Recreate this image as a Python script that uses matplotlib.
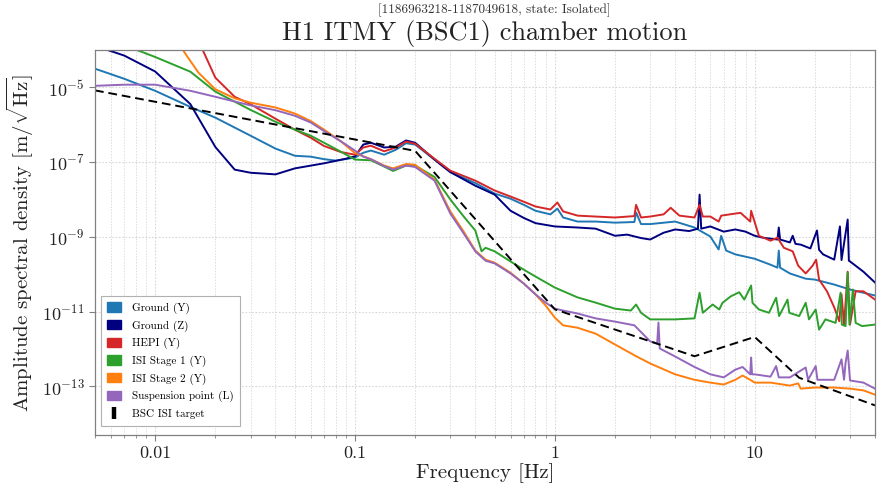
import matplotlib
matplotlib.use("Agg")
import matplotlib.pyplot as plt
from matplotlib.lines import Line2D
from matplotlib.patches import Patch
from matplotlib.ticker import FixedLocator, FuncFormatter, LogFormatterMathtext, NullLocator, LogLocator

plt.rcParams['font.family'] = 'serif'
plt.rcParams['font.serif'] = ['cmr10', 'DejaVu Serif']
plt.rcParams['mathtext.fontset'] = 'cm'
plt.rcParams['axes.unicode_minus'] = False
plt.rcParams['axes.formatter.use_mathtext'] = True

# ---------------- data ----------------
labels = ["Ground (Y)", "Ground (Z)", "HEPI (Y)", "ISI Stage 1 (Y)",
          "ISI Stage 2 (Y)", "Suspension point (L)"]
colors = ["#1f77b4", "#000080", "#d62728", "#2ca02c", "#ff7f0e", "#9467bd"]

ground_y_f = [0.005, 0.007, 0.01, 0.015, 0.02, 0.03, 0.04, 0.05, 0.06, 0.07, 0.08, 0.1, 0.11, 0.12,
              0.14, 0.16, 0.18, 0.2, 0.25, 0.3, 0.4, 0.5, 0.6, 0.7, 0.8, 0.95, 1.03, 1.1, 1.3, 1.6,
              2.0, 2.5, 2.55, 2.7, 3.0, 4.0, 5.0, 6.0, 6.6, 6.8, 7.2, 8, 10, 12, 13, 13.2, 13.4, 15,
              18, 20, 25, 30, 35, 40]
ground_y_asd = [3.16e-5, 1.7e-5, 8.1e-6, 3.0e-6, 1.55e-6, 5.1e-7, 2.3e-7, 1.48e-7, 1.4e-7, 1.2e-7,
                1.1e-7, 1.32e-7, 1.78e-7, 2.04e-7, 1.58e-7, 2.14e-7, 3.2e-7, 2.95e-7, 1.17e-7, 5.4e-8,
                2.75e-8, 1.44e-8, 1.05e-8, 7.2e-9, 5.0e-9, 4.0e-9, 5.7e-9, 3.3e-9, 2.57e-9, 2.57e-9,
                2.4e-9, 2.5e-9, 4.5e-9, 2.2e-9, 2.2e-9, 2.57e-9, 1.78e-9, 1.02e-9, 4.6e-10, 1.07e-9,
                4.3e-10, 3.4e-10, 2.6e-10, 1.8e-10, 1.5e-10, 4.3e-10, 1.5e-10, 1.05e-10, 7.6e-11,
                7.2e-11, 5.3e-11, 3.9e-11, 3.2e-11, 2.7e-11]

ground_z_f = [0.005, 0.007, 0.01, 0.015, 0.02, 0.025, 0.03, 0.04, 0.05, 0.07, 0.09, 0.1, 0.11, 0.12,
              0.14, 0.16, 0.18, 0.2, 0.25, 0.3, 0.4, 0.5, 0.6, 0.7, 0.8, 1.0, 1.3, 1.6, 2.0, 2.3, 2.7,
              3.0, 3.5, 4.0, 4.7, 5.2, 5.3, 5.4, 6.0, 7.0, 8.0, 9.0, 10, 11, 13, 13.2, 13.4, 15, 15.5,
              16, 17, 19, 20.5, 21, 22, 25, 26.7, 27.2, 29.2, 29.6, 30, 35, 40]
ground_z_asd = [1.3e-4, 7.1e-5, 2.66e-5, 3.57e-6, 2.55e-7, 6.3e-8, 5.2e-8, 4.7e-8, 6.8e-8, 9.3e-8,
                1.23e-7, 1.43e-7, 2.95e-7, 3.3e-7, 2.46e-7, 2.6e-7, 3.8e-7, 3.3e-7, 1.17e-7, 5.4e-8,
                2.34e-8, 1.35e-8, 5.0e-9, 3.2e-9, 2.33e-9, 1.9e-9, 1.78e-9, 1.66e-9, 1.07e-9, 1.15e-9,
                9.3e-10, 8.5e-10, 1.29e-9, 1.58e-9, 1.43e-9, 1.66e-9, 1.35e-8, 1.66e-9, 1.9e-9,
                1.38e-9, 1.58e-9, 1.38e-9, 1.07e-9, 9.5e-10, 8.5e-10, 1.78e-9, 8.5e-10, 7.1e-10,
                1.07e-9, 6.5e-10, 6.2e-10, 4.9e-10, 1.48e-9, 4.5e-10, 3.4e-10, 2.46e-10, 1.9e-9,
                2.4e-10, 2.9e-9, 2.3e-10, 2.2e-10, 1.17e-10, 6.0e-11]

hepi_y_f = [0.012, 0.0173, 0.02, 0.025, 0.03, 0.04, 0.05, 0.06, 0.07, 0.085, 0.1, 0.11, 0.12, 0.14,
            0.16, 0.18, 0.2, 0.25, 0.3, 0.4, 0.5, 0.6, 0.7, 0.8, 0.95, 1.03, 1.1, 1.3, 1.6, 2.0, 2.5,
            2.55, 2.7, 3.0, 3.5, 3.8, 4.2, 5.0, 5.3, 5.5, 6.0, 6.6, 6.8, 7.5, 8.5, 9.5, 9.6, 10.5,
            12, 13, 14, 15.5, 16.5, 18, 19.5, 20.3, 21, 23, 25, 26.5, 27.2, 28, 29.2, 30, 32, 35, 40]
hepi_y_asd = [3e-3, 1.0e-4, 1.82e-5, 5.6e-6, 3.55e-6, 1.45e-6, 7.4e-7, 4.5e-7, 2.7e-7, 1.86e-7,
              1.58e-7, 2.46e-7, 2.75e-7, 1.95e-7, 2.46e-7, 3.55e-7, 3.1e-7, 1.23e-7, 5.9e-8, 3.2e-8,
              1.74e-8, 1.2e-8, 8.7e-9, 6.5e-9, 5.4e-9, 8.3e-9, 4.8e-9, 3.7e-9, 3.5e-9, 3.3e-9,
              3.6e-9, 7.2e-9, 3.3e-9, 3.5e-9, 4.0e-9, 6.0e-9, 3.7e-9, 3.3e-9, 7.2e-9, 3.5e-9,
              3.5e-9, 2.57e-9, 3.7e-9, 4.0e-9, 4.4e-9, 2.57e-9, 5.0e-9, 1.07e-9, 7.9e-10, 9.5e-10,
              5.1e-10, 4.1e-10, 1.7e-10, 1.05e-10, 1.7e-10, 2.46e-10, 7.2e-11, 3.5e-11, 1.3e-11,
              5.5e-12, 2.9e-11, 4.5e-12, 1.17e-10, 4.5e-12, 3.5e-11, 3.5e-11, 2.1e-11]

st1_y_f = [0.007, 0.01, 0.015, 0.02, 0.03, 0.04, 0.05, 0.06, 0.07, 0.085, 0.1, 0.12, 0.14, 0.155,
           0.18, 0.2, 0.25, 0.3, 0.35, 0.4, 0.43, 0.45, 0.5, 0.6, 0.7, 0.8, 1.0, 1.3, 1.6, 2.0, 2.4,
           2.55, 2.7, 3.0, 4.0, 5.0, 5.3, 5.5, 6.16, 6.65, 6.9, 7.6, 8.37, 8.87, 9.6, 9.75, 10.5,
           11.8, 12.8, 13.25, 14.6, 14.9, 16.7, 18.0, 18.7, 20.2, 21.0, 22.6, 25.4, 26.9, 27.3,
           28.5, 29.2, 29.8, 31, 32, 34.5, 40]
st1_y_asd = [1.35e-4, 6.5e-5, 2.63e-5, 7.7e-6, 2.5e-6, 1.2e-6, 7.4e-7, 5.1e-7, 3.3e-7, 1.9e-7,
             1.17e-7, 1.12e-7, 7.6e-8, 5.8e-8, 8.1e-8, 8.1e-8, 4.0e-8, 1.0e-8, 3.5e-9, 1.48e-9,
             4.1e-10, 5.1e-10, 4.1e-10, 2.2e-10, 1.32e-10, 8.7e-11, 4.4e-11, 2.4e-11, 1.74e-11,
             1.2e-11, 1.07e-11, 1.55e-11, 9.3e-12, 6.2e-12, 6.2e-12, 6.6e-12, 3.2e-11, 9.3e-12,
             1.55e-11, 1.14e-11, 1.72e-11, 2.57e-11, 3.3e-11, 2.1e-11, 5.0e-11, 1.72e-11, 1.14e-11,
             9.3e-12, 2.35e-11, 7.6e-12, 2.1e-11, 9.3e-12, 7.6e-12, 1.72e-11, 6.2e-12, 1.14e-11,
             3.3e-12, 6.2e-12, 5.0e-12, 3.2e-11, 4.5e-12, 4.1e-12, 1.1e-10, 4.5e-12, 3.9e-11,
             5.0e-12, 4.1e-12, 4.5e-12]

st2_y_f = [0.013, 0.0145, 0.0165, 0.02, 0.025, 0.03, 0.04, 0.05, 0.06, 0.07, 0.085, 0.1, 0.12, 0.14,
           0.155, 0.18, 0.2, 0.25, 0.3, 0.35, 0.4, 0.45, 0.5, 0.6, 0.7, 0.8, 0.9, 1.0, 1.1, 1.3, 1.6,
           2.0, 2.5, 3.0, 4.0, 5.0, 6.0, 7.0, 8.0, 8.7, 9.5, 10, 12, 15, 16.5, 17, 20, 25, 30, 35, 40]
st2_y_asd = [1.6e-4, 6.6e-5, 2.45e-5, 8.9e-6, 5.1e-6, 3.9e-6, 2.9e-6, 2.0e-6, 1.26e-6, 7.4e-7,
             3.6e-7, 1.74e-7, 1.2e-7, 8.1e-8, 6.8e-8, 8.9e-8, 8.5e-8, 3.4e-8, 4.8e-9, 1.38e-9,
             4.3e-10, 2.46e-10, 2.04e-10, 1.1e-10, 5.6e-11, 2.9e-11, 1.45e-11, 6.9e-12, 4.3e-12,
             3.7e-12, 2.57e-12, 1.32e-12, 6.8e-13, 4.1e-13, 2.1e-13, 1.5e-13, 1.26e-13, 1.12e-13,
             1.5e-13, 1.95e-13, 1.5e-13, 1.26e-13, 1.26e-13, 1.05e-13, 1.2e-13, 8.7e-14, 9.3e-14,
             9.3e-14, 8.7e-14, 7.8e-14, 6.0e-14]

susp_l_f = [0.005, 0.007, 0.01, 0.015, 0.02, 0.03, 0.04, 0.05, 0.06, 0.07, 0.085, 0.1, 0.11, 0.12,
            0.14, 0.155, 0.18, 0.2, 0.25, 0.3, 0.35, 0.4, 0.45, 0.5, 0.6, 0.7, 0.8, 0.9, 1.0, 1.1,
            1.3, 1.6, 2.0, 2.5, 3.0, 3.25, 3.3, 3.35, 4.0, 5.0, 6.0, 7.0, 8.0, 8.7, 9.5, 9.6, 9.7,
            10, 12, 12.8, 13.2, 15, 18, 18.5, 20.2, 20.6, 22, 25, 27.2, 28, 28.5, 29.2, 30, 35, 40]
susp_l_asd = [1.1e-5, 1.18e-5, 1.18e-5, 8.1e-6, 5.6e-6, 3.3e-6, 2.45e-6, 1.74e-6, 1.15e-6, 6.8e-7,
              3.6e-7, 2.04e-7, 1.4e-7, 1.2e-7, 7.8e-8, 6.3e-8, 8.1e-8, 7.4e-8, 3.2e-8, 4.2e-9,
              1.23e-9, 4.1e-10, 2.3e-10, 1.95e-10, 1.05e-10, 5.6e-11, 2.9e-11, 1.74e-11, 1.2e-11,
              1.07e-11, 8.9e-12, 6.6e-12, 5.4e-12, 4.3e-12, 1.6e-12, 1.4e-12, 5.1e-12, 1.03e-12,
              6.3e-13, 3.3e-13, 2.1e-13, 1.74e-13, 2.8e-13, 3.3e-13, 2.1e-13, 5.9e-13, 2.1e-13,
              2.1e-13, 1.82e-13, 3.5e-13, 1.74e-13, 1.74e-13, 3.2e-13, 1.5e-13, 3.5e-13, 1.5e-13,
              1.5e-13, 1.5e-13, 5.3e-13, 1.5e-13, 4.3e-13, 9.1e-13, 1.44e-13, 1.26e-13, 8.7e-14]

target_f = [0.005, 0.2, 1, 5, 10, 16.7, 40]
target_asd = [8.3e-6, 2.0e-7, 1.15e-11, 6.4e-13, 2.1e-12, 1.7e-13, 3.1e-14]
target_label = "BSC ISI target"

x_ticks = [0.01, 0.1, 1, 10]
y_ticks = [1e-13, 1e-11, 1e-9, 1e-7, 1e-5]

title = "H1 ITMY (BSC1) chamber motion"
subtitle = "[1186963218-1187049618, state: Isolated]"
xlabel = "Frequency [Hz]"
ylabel = r"Amplitude spectral density [m/$\sqrt{\mathrm{Hz}}$]"

# ---------------- plot ----------------
fig = plt.figure(figsize=(8.77, 4.94), dpi=100)
ax = fig.add_axes([95 / 877, 1 - 435 / 494, 780 / 877, 385 / 494])

series = [(ground_y_f, ground_y_asd), (ground_z_f, ground_z_asd), (hepi_y_f, hepi_y_asd),
          (st1_y_f, st1_y_asd), (st2_y_f, st2_y_asd), (susp_l_f, susp_l_asd)]
for (f, a), c in zip(series, colors):
    ax.plot(f, a, color=c, lw=1.4)
ax.plot(target_f, target_asd, color='black', lw=1.4, ls=(0, (4.5, 2.5)))

ax.set_xscale('log')
ax.set_yscale('log')
ax.set_xlim(0.005, 40)
ax.set_ylim(5e-15, 1e-4)

ax.xaxis.set_major_locator(FixedLocator(x_ticks))
ax.xaxis.set_major_formatter(FuncFormatter(lambda v, p: f"{v:g}"))
ax.xaxis.set_minor_locator(LogLocator(base=10, subs=range(2, 10), numticks=20))
ax.xaxis.set_minor_formatter(FuncFormatter(lambda v, p: ""))
ax.yaxis.set_major_locator(FixedLocator(y_ticks))
ax.yaxis.set_major_formatter(LogFormatterMathtext())
ax.yaxis.set_minor_locator(NullLocator())

ax.grid(which='major', color='#d8d8d8', ls=(0, (1.5, 1.5)), lw=0.8)
ax.grid(which='minor', axis='x', color='#dcdcdc', ls=(0, (1.5, 1.5)), lw=0.7)
ax.set_axisbelow(True)

for s in ax.spines.values():
    s.set_color('#808080')
    s.set_linewidth(0.9)
ax.tick_params(which='both', direction='out', colors='#808080', labelcolor='#222222')
ax.tick_params(which='major', length=4, labelsize=13)
ax.tick_params(which='minor', length=2.5)

ax.set_xlabel(xlabel, fontsize=15, color='#222222', labelpad=2)
ax.set_ylabel(ylabel, fontsize=15, color='#222222', labelpad=4)
ax.set_title(title, fontsize=19, color='#222222', pad=7)
fig.text(494 / 877, 1 - 10 / 494, subtitle, fontsize=9.5, color='#333333',
         ha='center', va='center')

handles = [Patch(facecolor=c, edgecolor=c) for c in colors]
handles.append(Line2D([], [], ls='none', marker='|', ms=8, mew=3.2, color='black'))
leg = ax.legend(handles, labels + [target_label], loc='lower left', fontsize=8,
                frameon=True, fancybox=False, edgecolor='#b0b0b0', framealpha=1,
                handlelength=1.2, handleheight=0.9, labelspacing=0.55,
                borderpad=0.6, handletextpad=1.0, bbox_to_anchor=(0.0, 0.01))
leg.get_frame().set_linewidth(0.8)

fig.savefig("out.png", dpi=100)
